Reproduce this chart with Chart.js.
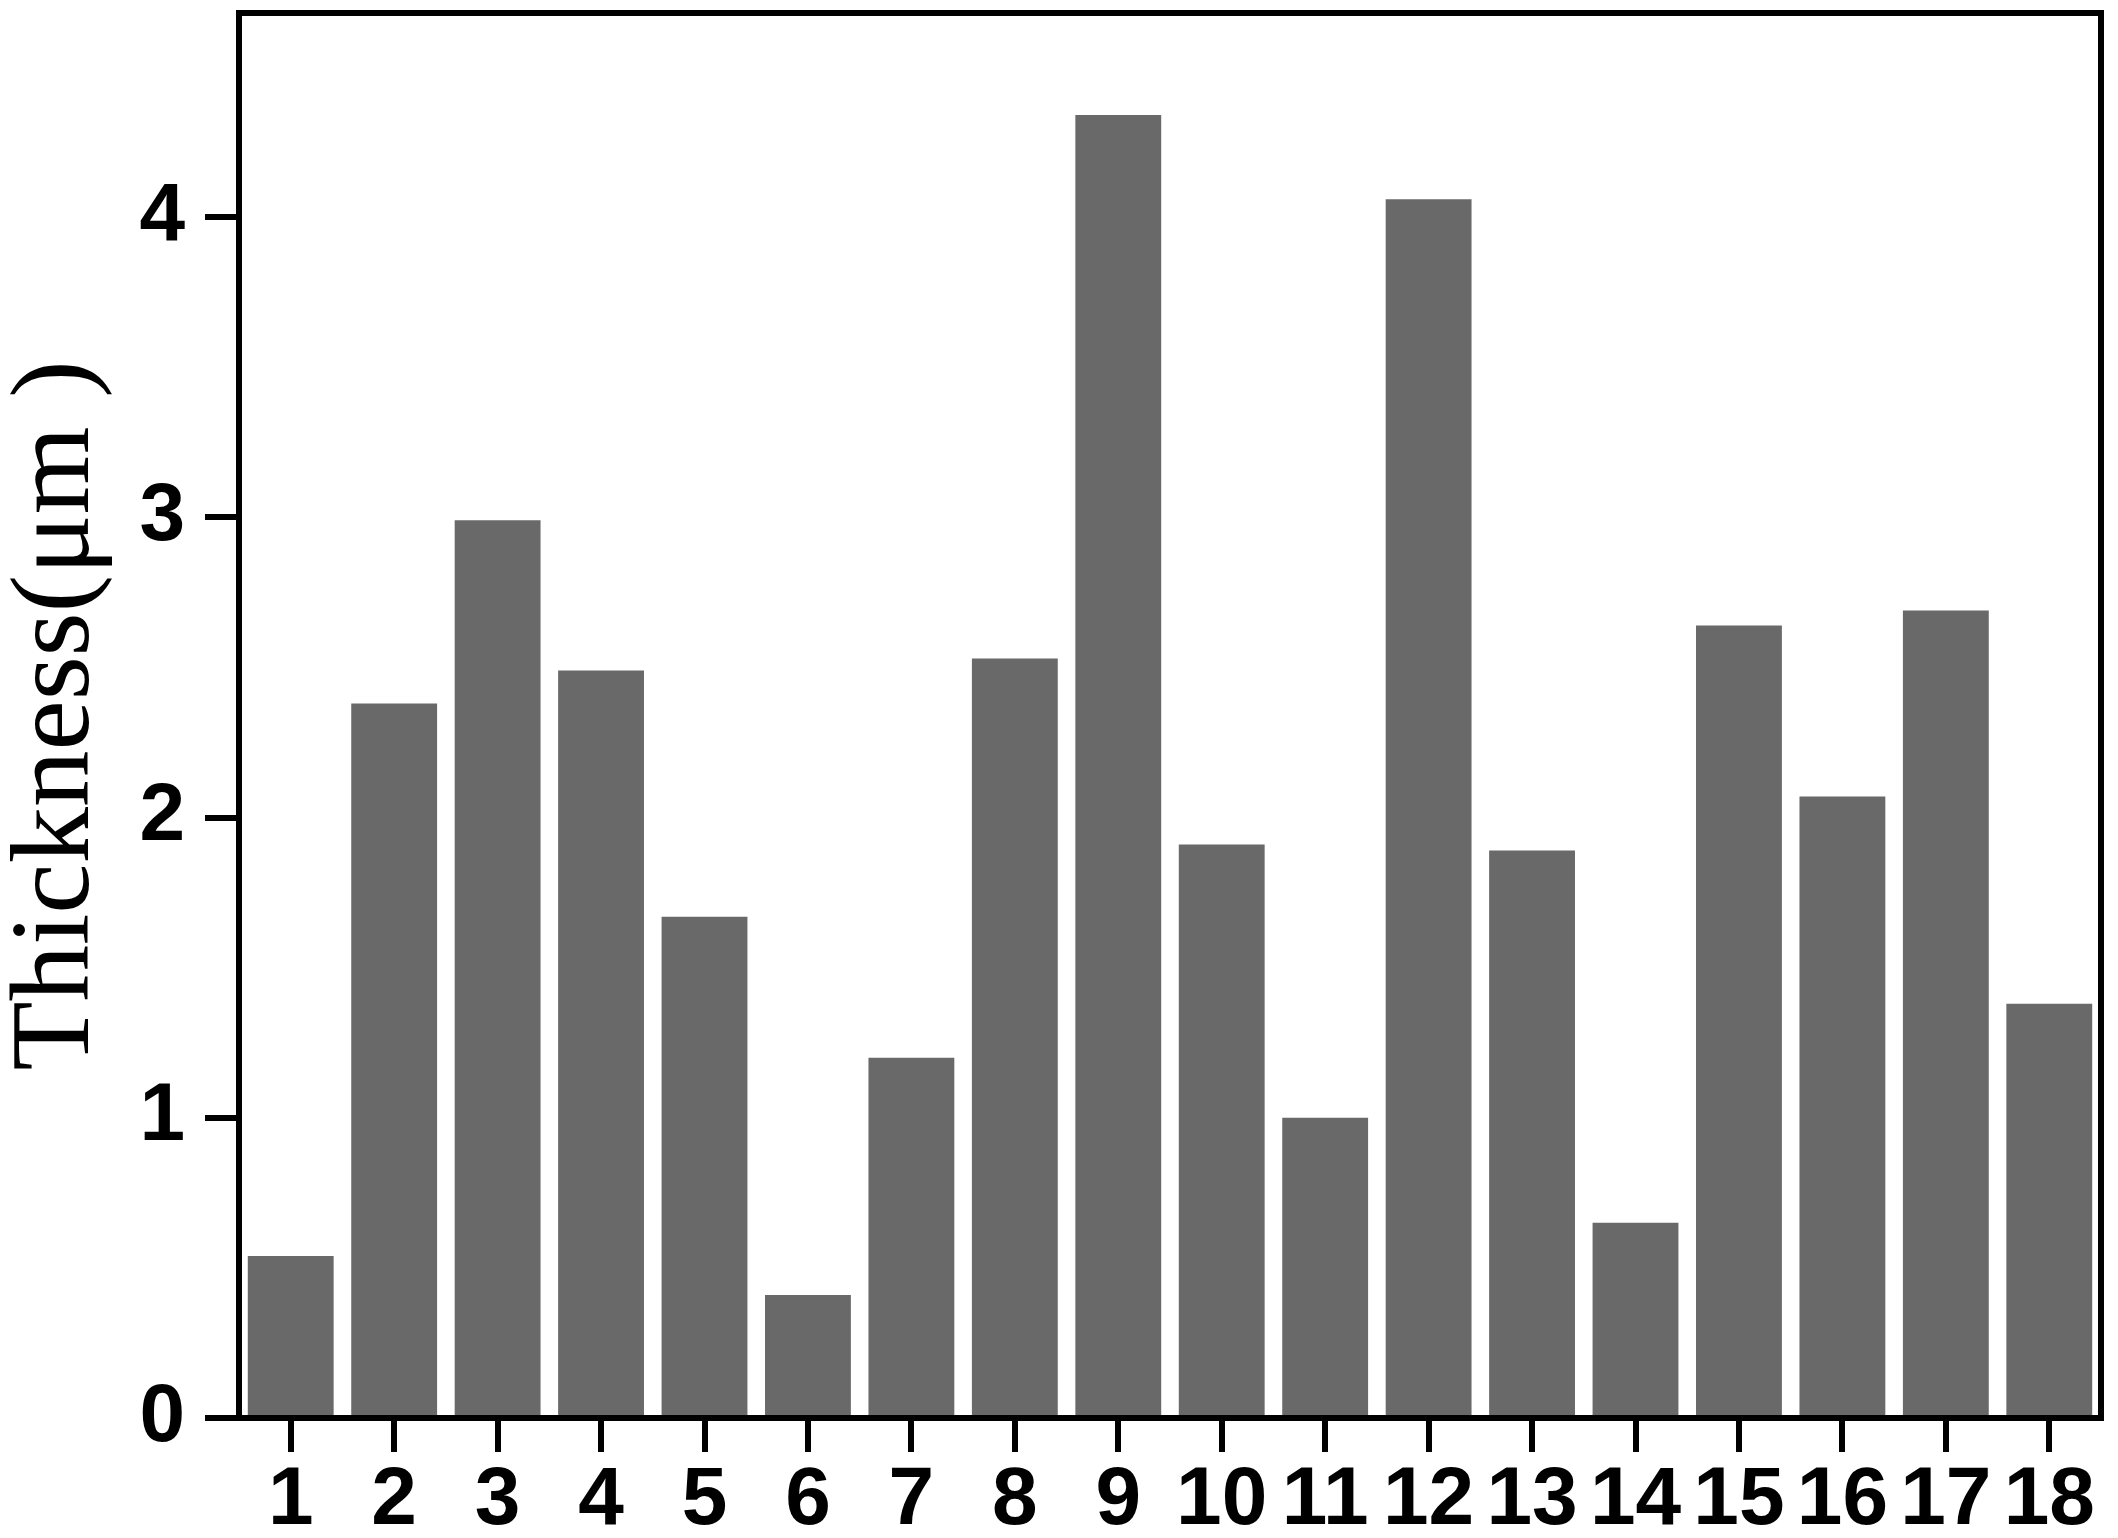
<!DOCTYPE html>
<html>
<head>
<meta charset="utf-8">
<script src="https://cdn.jsdelivr.net/npm/chart.js@4/dist/chart.umd.min.js"></script>
<style>
  html, body { margin: 0; padding: 0; background: #fff; }
  #wrap { width: 2118px; height: 1538px; }
</style>
</head>
<body>
<div id="wrap"><canvas id="c" width="2118" height="1538"></canvas></div>
<script>
const categories = ['1','2','3','4','5','6','7','8','9','10','11','12','13','14','15','16','17','18'];
const thickness = [0.54, 2.38, 2.99, 2.49, 1.67, 0.41, 1.20, 2.53, 4.34, 1.91, 1.00, 4.06, 1.89, 0.65, 2.64, 2.07, 2.69, 1.38];
const yMin = 0;
const yMax = 4.68;
const yStep = 1;
const yTitle = 'Thickness(\u03BCm )';

const tickFont = { family: "'Liberation Sans', Arial, sans-serif", size: 82, weight: 'bold' };

function noPad(s) { s.paddingTop = 0; s.paddingBottom = 0; s.paddingLeft = 0; s.paddingRight = 0; }

new Chart(document.getElementById('c'), {
  type: 'bar',
  data: {
    labels: categories,
    datasets: [{
      data: thickness,
      backgroundColor: '#696969',
      borderWidth: 0,
      barPercentage: 0.83,
      categoryPercentage: 1.0
    }]
  },
  options: {
    responsive: false,
    animation: false,
    layout: { padding: 0 },
    plugins: { legend: { display: false }, tooltip: { enabled: false } },
    scales: {
      x: {
        type: 'category',
        position: 'bottom',
        offset: true,
        grid: { display: true, offset: false, drawOnChartArea: false, drawTicks: true, tickLength: 34, tickWidth: 6, tickColor: '#000', color: '#000', lineWidth: 6 },
        border: { display: true, color: '#000', width: 6 },
        ticks: { color: '#000', font: tickFont, padding: 0, maxRotation: 0, autoSkip: false },
        afterFit: s => { s.height = 120; noPad(s); }
      },
      x2: {
        type: 'category',
        position: 'top',
        labels: categories,
        grid: { display: false, drawTicks: false },
        border: { display: true, color: '#000', width: 6 },
        ticks: { display: false },
        afterFit: s => { s.height = 13; noPad(s); }
      },
      y: {
        type: 'linear',
        position: 'left',
        min: yMin,
        max: yMax,
        grid: { display: true, drawOnChartArea: false, drawTicks: true, tickLength: 34, tickWidth: 6, tickColor: '#000', color: '#000', lineWidth: 6 },
        border: { display: true, color: '#000', width: 6 },
        ticks: { stepSize: yStep, includeBounds: false, color: '#000', font: tickFont, padding: 20 },
        title: {
          display: true,
          text: yTitle,
          color: '#000',
          font: { family: "'Liberation Serif', 'Times New Roman', serif", size: 113, weight: 'normal', lineHeight: 1.0 },
          padding: { top: 2, bottom: 0 }
        },
        afterFit: s => { s.width = 239; noPad(s); }
      },
      y2: {
        type: 'linear',
        position: 'right',
        min: yMin,
        max: yMax,
        grid: { display: false, drawTicks: false },
        border: { display: true, color: '#000', width: 6 },
        ticks: { display: false },
        afterFit: s => { s.width = 17; noPad(s); }
      }
    }
  }
});
</script>
</body>
</html>
